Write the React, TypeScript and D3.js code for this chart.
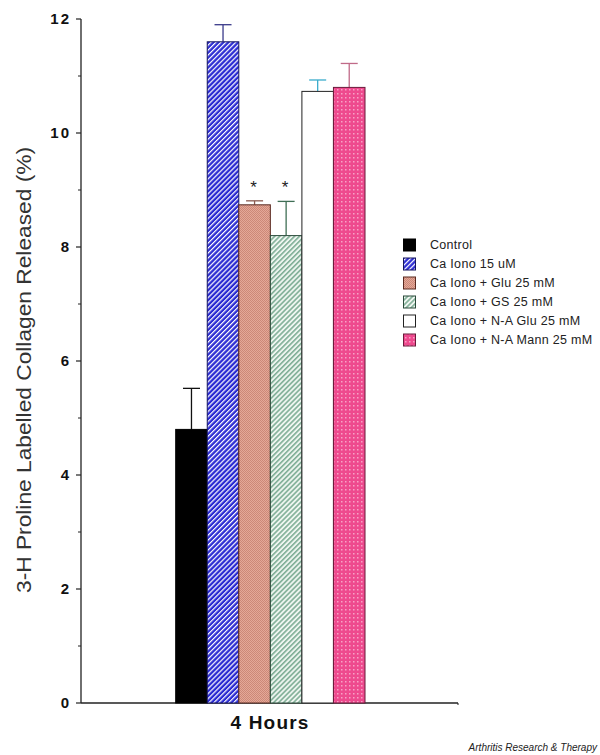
import React from "react";
import * as d3 from "d3";

const categories = [
  "Control",
  "Ca Iono 15 uM",
  "Ca Iono + Glu 25 mM",
  "Ca Iono + GS 25 mM",
  "Ca Iono + N-A Glu 25 mM",
  "Ca Iono + N-A Mann 25 mM",
];
const means = [4.8, 11.6, 8.74, 8.2, 10.73, 10.8];
const errors = [0.72, 0.3, 0.07, 0.6, 0.2, 0.42];
const significant = [false, false, true, true, false, false];
const yTicks = [0, 2, 4, 6, 8, 10, 12];
const yMinorTicks = [1, 3, 5, 7, 9, 11];
const groupLabel = "4 Hours";

const fills = ["#000000", "url(#pBlue)", "url(#pSalmon)", "url(#pGreen)", "#ffffff", "url(#pPink)"];
const strokes = ["#000000", "#15155e", "#5a2a20", "#2a4a3a", "#222222", "#6a1a3a"];
const errColors = ["#111111", "#3a3a8a", "#8a5a50", "#3f6e55", "#3aaccc", "#c06a88"];

export default function App() {
  const y = d3.scaleLinear().domain([0, 12]).range([703, 19]);
  const x = d3.scaleBand<string>().domain(categories).range([175.7, 365]).padding(0);
  const bw = x.bandwidth();
  const axisX = 81;

  return (
    <svg width={600} height={755} style={{ position: "absolute", left: 0, top: 0, background: "#fff" }}>
      <defs>
        <pattern id="pBlue" width={3.5} height={3.5} patternUnits="userSpaceOnUse" patternTransform="rotate(45)">
          <rect width={3.5} height={3.5} fill="#2a2ad2" />
          <rect width={1.2} height={3.5} fill="#ffffff" />
        </pattern>
        <pattern id="pGreen" width={3.5} height={3.5} patternUnits="userSpaceOnUse" patternTransform="rotate(45)">
          <rect width={3.5} height={3.5} fill="#eef5f0" />
          <rect width={1.6} height={3.5} fill="#7fae96" />
        </pattern>
        <pattern id="pSalmon" width={2} height={2} patternUnits="userSpaceOnUse">
          <rect width={2} height={2} fill="#e4a898" />
          <rect width={1} height={1} fill="#cc8878" />
          <rect x={1} y={1} width={1} height={1} fill="#cc8878" />
        </pattern>
        <pattern id="pPink" width={4} height={4} patternUnits="userSpaceOnUse">
          <rect width={4} height={4} fill="#ee4a8e" />
          <rect x={1} y={1} width={1.5} height={1.5} fill="#f8a2c6" />
        </pattern>
      </defs>

      {/* Y axis */}
      <line x1={axisX} x2={axisX} y1={y(12)} y2={y(0)} stroke="#222" strokeWidth={1.3} />
      {yTicks.map((t) => (
        <g key={"t" + t}>
          <line x1={axisX - 5} x2={axisX} y1={y(t)} y2={y(t)} stroke="#222" strokeWidth={1.2} />
          <text
            x={71}
            y={y(t)}
            dy="0.35em"
            textAnchor="end"
            fontFamily="Liberation Sans, Arial, sans-serif"
            fontWeight="bold"
            fontSize={15}
            letterSpacing={2}
            fill="#111"
          >
            {t}
          </text>
        </g>
      ))}
      {yMinorTicks.map((t) => (
        <line key={"m" + t} x1={axisX - 3} x2={axisX} y1={y(t)} y2={y(t)} stroke="#222" strokeWidth={1} />
      ))}

      {/* X axis */}
      <line x1={axisX} x2={458} y1={y(0)} y2={y(0)} stroke="#222" strokeWidth={1.3} />
      <line x1={458} x2={458} y1={y(0)} y2={y(0) + 2} stroke="#222" strokeWidth={1} />

      {/* Error bars */}
      {categories.map((c, i) => {
        const cx = (x(c) as number) + bw / 2;
        const top = y(means[i] + errors[i]);
        return (
          <g key={"e" + i} stroke={errColors[i]} strokeWidth={1.3}>
            <line x1={cx} x2={cx} y1={y(means[i])} y2={top} />
            <line x1={cx - 8.5} x2={cx + 8.5} y1={top} y2={top} />
          </g>
        );
      })}

      {/* Bars */}
      {categories.map((c, i) => (
        <rect
          key={"b" + i}
          x={x(c) as number}
          y={y(means[i])}
          width={bw}
          height={y(0) - y(means[i])}
          fill={fills[i]}
          stroke={strokes[i]}
          strokeWidth={1}
        />
      ))}

      {/* Significance stars */}
      {categories.map((c, i) =>
        significant[i] ? (
          <text
            key={"s" + i}
            x={(x(c) as number) + bw / 2 - 1}
            y={y(means[i] + errors[i]) - 8}
            textAnchor="middle"
            fontFamily="Liberation Sans, Arial, sans-serif"
            fontSize={17}
            fill="#222"
          >
            *
          </text>
        ) : null
      )}

      {/* X label */}
      <text
        x={270}
        y={729}
        textAnchor="middle"
        fontFamily="Liberation Sans, Arial, sans-serif"
        fontWeight="bold"
        fontSize={19}
        letterSpacing={1.2}
        fill="#111"
      >
        {groupLabel}
      </text>

      {/* Y label */}
      <text
        transform={`translate(31,370) rotate(-90)`}
        textAnchor="middle"
        fontFamily="Liberation Sans, Arial, sans-serif"
        fontSize={20}
        textLength={446}
        lengthAdjust="spacingAndGlyphs"
        fill="#333"
      >
        3-H Proline Labelled Collagen Released (%)
      </text>

      {/* Legend */}
      {categories.map((c, i) => {
        const ly = 245 + i * 19;
        return (
          <g key={"l" + i}>
            <rect
              x={403.5}
              y={ly - 6}
              width={12}
              height={12}
              fill={fills[i]}
              stroke={strokes[i]}
              strokeWidth={1}
            />
            <text
              x={430}
              y={ly}
              dy="0.35em"
              fontFamily="Liberation Sans, Arial, sans-serif"
              fontSize={12.5}
              letterSpacing={0.3}
              fill="#222"
            >
              {c}
            </text>
          </g>
        );
      })}

      {/* Credit */}
      <text
        x={597}
        y={751}
        textAnchor="end"
        fontFamily="Liberation Sans, Arial, sans-serif"
        fontStyle="italic"
        fontSize={10}
        fill="#222"
      >
        Arthritis Research &amp; Therapy
      </text>
    </svg>
  );
}
